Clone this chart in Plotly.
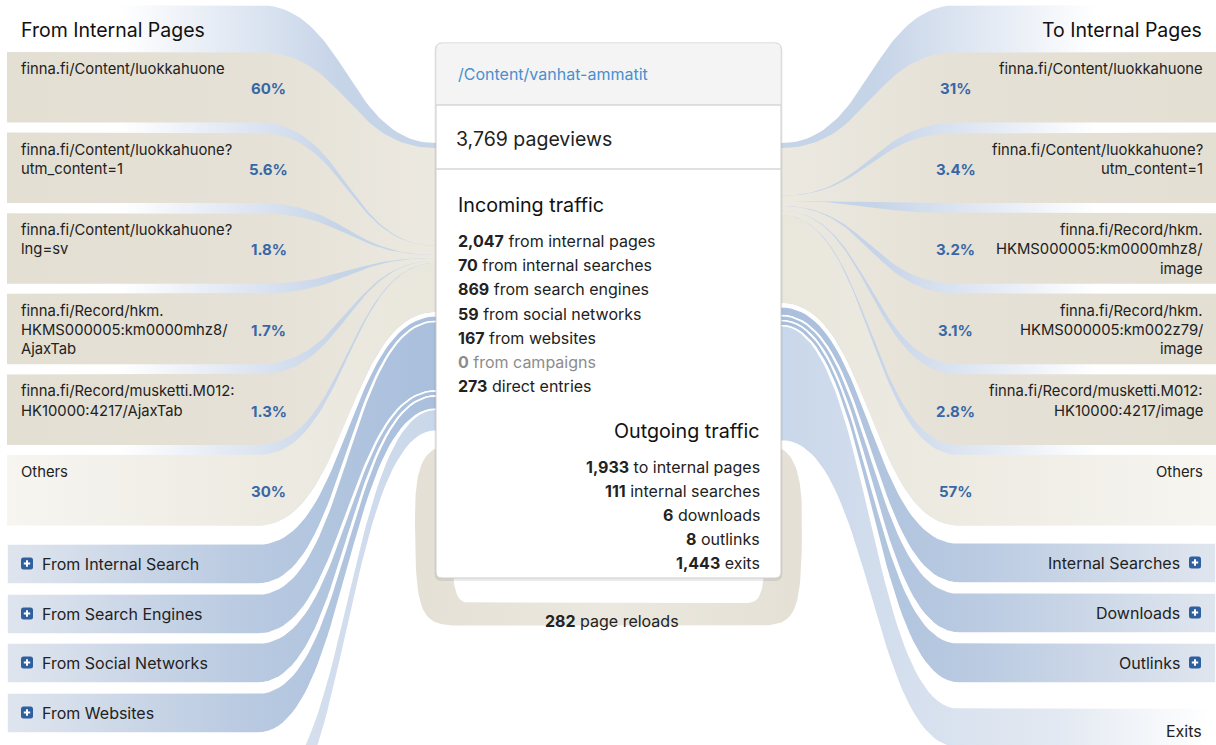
import numpy as np
import plotly.graph_objects as go

# ---------------- data ----------------
page_url = "/Content/vanhat-ammatit"
pageviews = 3769

incoming_labels = ["from internal pages", "from internal searches", "from search engines",
                   "from social networks", "from websites", "from campaigns", "direct entries"]
incoming_values = [2047, 70, 869, 59, 167, 0, 273]

outgoing_labels = ["to internal pages", "internal searches", "downloads", "outlinks", "exits"]
outgoing_values = [1933, 111, 6, 8, 1443]

page_reloads = 282

prev_pages = ["finna.fi/Content/luokkahuone",
              "finna.fi/Content/luokkahuone?\nutm_content=1",
              "finna.fi/Content/luokkahuone?\nlng=sv",
              "finna.fi/Record/hkm.\nHKMS000005:km0000mhz8/\nAjaxTab",
              "finna.fi/Record/musketti.M012:\nHK10000:4217/AjaxTab",
              "Others"]
prev_pct = [60, 5.6, 1.8, 1.7, 1.3, 30]

next_pages = ["finna.fi/Content/luokkahuone",
              "finna.fi/Content/luokkahuone?\nutm_content=1",
              "finna.fi/Record/hkm.\nHKMS000005:km0000mhz8/\nimage",
              "finna.fi/Record/hkm.\nHKMS000005:km002z79/\nimage",
              "finna.fi/Record/musketti.M012:\nHK10000:4217/image",
              "Others"]
next_pct = [31, 3.4, 3.2, 3.1, 2.8, 57]

left_groups = ["From Internal Search", "From Search Engines", "From Social Networks",
               "From Websites", "Direct Entries"]
left_group_values = [70, 869, 59, 167, 273]
right_groups = ["Internal Searches", "Downloads", "Outlinks", "Exits"]
right_group_values = [111, 6, 8, 1443]

# ---------------- layout constants ----------------
W, H = 1216, 745
CL, CR = 436, 781          # centre box left / right edge
BT, BB = 43, 578           # centre box top / bottom
K = 0.08                   # px per pageview
Y0 = 148                   # first flow y on centre box
XL0, XLC = 7, 258          # left boxes: left edge, curve start
XRC, XR0 = 959, 1216       # right boxes: curve start, right edge
ITEM_TOP0, ITEM_PITCH, ITEM_H = 52, 80.6, 70.5
LGROUP_TOPS = [544, 594, 643, 693, 790]
RGROUP_TOPS = [543, 593, 643, 708]
GROUP_H = 40
MINW = 5
FONT = "Inter"
TXT = "#222222"
PCT = "#3767a6"

TAN = [[0, "#e3dfd3"], [0.6, "#e5e1d6"], [1, "#ece9e1"]]
TAN_OTHERS = [[0, "#f6f5f0"], [0.55, "#eeebe3"], [1, "#e9e6dc"]]
BG_BLUE = [[0, "#ffffff"], [0.35, "#ffffff"], [1, "#c6d4e8"]]
BLUE = [[0, "#dfe5ee"], [0.55, "#b9cae1"], [1, "#a9bfdc"]]
LIGHT_BLUE = [[0, "#ffffff"], [0.35, "#e3e9f2"], [1, "#c9d7ea"]]

fig = go.Figure()


def bez(x0, y0, x1, y1, n=48):
    t = np.linspace(0, 1, n)
    xm = (x0 + x1) / 2
    x = (1 - t) ** 3 * x0 + 3 * (1 - t) ** 2 * t * xm + 3 * (1 - t) * t ** 2 * xm + t ** 3 * x1
    y = (1 - t) ** 3 * y0 + 3 * (1 - t) ** 2 * t * y0 + 3 * (1 - t) * t ** 2 * y1 + t ** 3 * y1
    return list(x), list(y)


def band(top, bot, ctop, cbot, side):
    if side == "L":
        xo, xa, xc, xin = XL0, XLC, CL, CL + 4
    else:
        xo, xa, xc, xin = XR0, XRC, CR, CR - 4
    xt, yt = bez(xa, top, xc, ctop)
    xb, yb = bez(xa, bot, xc, cbot)
    xs = [xo] + xt + [xin, xin] + xb[::-1] + [xo, xo]
    ys = [top] + yt + [ctop, cbot] + yb[::-1] + [bot, top]
    return xs, ys


def add_fill(xs, ys, cs, side, start, stop, line_color=None, line_w=0):
    if side == "R":
        cs = [[round(1 - p, 4), c] for p, c in cs[::-1]]
        start, stop = W - stop, W - start
    fig.add_trace(go.Scatter(
        x=xs, y=ys, mode="lines", fill="toself",
        line=dict(width=line_w, color=line_color or "rgba(0,0,0,0)"),
        fillgradient=dict(type="horizontal", colorscale=cs, start=start, stop=stop),
        hoverinfo="skip", showlegend=False))


def pct_text(v):
    return f"{v:g}%"


annotations = []


def ann(x, y, text, size=14, color=TXT, xanchor="left", yanchor="middle"):
    annotations.append(dict(x=x, y=y, xref="x", yref="y", text=text, showarrow=False,
                            xanchor=xanchor, yanchor=yanchor,
                            font=dict(family=FONT, size=size, color=color)))


shapes = []


def rrect_path(x0, y0, x1, y1, r, top=True, bottom=True):
    rt = r if top else 0
    rb = r if bottom else 0
    return (f"M{x0 + rt},{y0} L{x1 - rt},{y0} Q{x1},{y0} {x1},{y0 + rt} "
            f"L{x1},{y1 - rb} Q{x1},{y1} {x1 - rb},{y1} L{x0 + rb},{y1} "
            f"Q{x0},{y1} {x0},{y1 - rb} L{x0},{y0 + rt} Q{x0},{y0} {x0 + rt},{y0} Z")


def plus_icon(cx, cy, s=12):
    x0, y0, x1, y1 = cx - s / 2, cy - s / 2, cx + s / 2, cy + s / 2
    shapes.append(dict(type="path", xref="x", yref="y", layer="above",
                       path=rrect_path(x0, y0, x1, y1, 2.5), fillcolor="#2f5f9c",
                       line=dict(width=0)))
    shapes.append(dict(type="line", xref="x", yref="y", layer="above",
                       x0=cx - 3.2, x1=cx + 3.2, y0=cy, y1=cy, line=dict(color="white", width=2)))
    shapes.append(dict(type="line", xref="x", yref="y", layer="above",
                       x0=cx, x1=cx, y0=cy - 3.2, y1=cy + 3.2, line=dict(color="white", width=2)))


# ---------------- side panels ----------------
def draw_side(side, pages, pcts, group_total, groups, group_vals, group_tops, header):
    tot_h = group_total * K
    # group background (blue strip visible between page boxes)
    xs, ys = band(5, ITEM_TOP0 + 5 * ITEM_PITCH + ITEM_H, Y0 - 5, Y0 + tot_h, side)
    add_fill(xs, ys, BG_BLUE, side, 0, 340)
    # page boxes
    ssum = sum(pcts)
    cy = Y0
    for i, (pg, p) in enumerate(zip(pages, pcts)):
        h = p / ssum * tot_h
        top = ITEM_TOP0 + i * ITEM_PITCH
        bot = top + ITEM_H
        xs, ys = band(top, bot, cy, cy + h, side)
        cs = TAN_OTHERS if pg == "Others" else TAN
        add_fill(xs, ys, cs, side, XL0, CL)
        cy += h
        for j, line in enumerate(pg.split("\n")):
            if side == "L":
                ann(18.5, top + 17 + 19.2 * j, line, 14.8)
            else:
                ann(1204.5, top + 17 + 19.2 * j, line, 14.8, xanchor="right")
        xp = 268.5 if side == "L" else 955.5
        ann(xp, top + ITEM_H / 2 + 1.5, f"<b>{pct_text(p)}</b>", 15, PCT, xanchor="center")
    if side == "L":
        ann(18.5, 30, header, 19.5, "#111111")
    else:
        ann(1204, 30, header, 19.5, "#111111", xanchor="right")
    # other groups
    cy = Y0 + tot_h + 4
    for g, v, top in zip(groups, group_vals, group_tops):
        h = max(v * K, MINW)
        bot = top + GROUP_H
        xs, ys = band(top, bot, cy, cy + h, side)
        light = g in ("Exits", "Direct Entries")
        add_fill(xs, ys, LIGHT_BLUE if light else BLUE, side, XL0, CL,
                 line_color="white", line_w=1.6)
        cy += h
        ymid = top + GROUP_H / 2 - 0.5
        if top < H:
            if side == "L":
                if not light:
                    plus_icon(27, ymid)
                    ann(39.5, ymid, g, 16)
                else:
                    ann(18.5, ymid, g, 16)
            else:
                if not light:
                    plus_icon(1195, ymid)
                    ann(1182, ymid, g, 16, xanchor="right")
                else:
                    ann(1204, ymid + 3, g, 16, xanchor="right")
    return cy


lend = draw_side("L", prev_pages, prev_pct, incoming_values[0], left_groups,
                 left_group_values, LGROUP_TOPS, "From Internal Pages")
rend = draw_side("R", next_pages, next_pct, outgoing_values[0], right_groups,
                 right_group_values, RGROUP_TOPS, "To Internal Pages")

# ---------------- page reload loop ----------------
lw = page_reloads * K
ytop = max(lend, rend) + 6
in_bot = 603
out_bot = in_bot + lw
xo_l, xo_r = 415, 802
xi_l, xi_r = 452, 765
pts_x, pts_y = [], []


def seg(p0, p1, p2, p3, n=30):
    t = np.linspace(0, 1, n)
    x = (1 - t) ** 3 * p0[0] + 3 * (1 - t) ** 2 * t * p1[0] + 3 * (1 - t) * t ** 2 * p2[0] + t ** 3 * p3[0]
    y = (1 - t) ** 3 * p0[1] + 3 * (1 - t) ** 2 * t * p1[1] + 3 * (1 - t) * t ** 2 * p2[1] + t ** 3 * p3[1]
    pts_x.extend(x)
    pts_y.extend(y)


seg((CL + 4, ytop), (418, ytop + 6), (xo_l, ytop + 35), (xo_l, ytop + 70))
seg((xo_l, ytop + 70), (xo_l, out_bot - 10), (xo_l + 5, out_bot), (xo_l + 45, out_bot))
seg((xo_l + 45, out_bot), (500, out_bot), (700, out_bot), (xo_r - 45, out_bot))
seg((xo_r - 45, out_bot), (xo_r - 5, out_bot), (xo_r, out_bot - 10), (xo_r, ytop + 70))
seg((xo_r, ytop + 70), (xo_r, ytop + 35), (CR + 16, ytop + 6), (CR - 4, ytop))
yti = ytop + lw
seg((CR - 4, yti), (CR - 4, yti), (xi_r, yti + 30), (xi_r, yti + 70))
seg((xi_r, yti + 70), (xi_r, in_bot - 5), (xi_r - 5, in_bot), (xi_r - 20, in_bot))
seg((xi_r - 20, in_bot), (700, in_bot), (500, in_bot), (xi_l + 20, in_bot))
seg((xi_l + 20, in_bot), (xi_l + 5, in_bot), (xi_l, in_bot - 5), (xi_l, yti + 70))
seg((xi_l, yti + 70), (xi_l, yti + 30), (CL + 4, yti), (CL + 4, yti))
fig.add_trace(go.Scatter(x=pts_x, y=pts_y, mode="lines", fill="toself",
                         line=dict(width=0, color="rgba(0,0,0,0)"),
                         fillgradient=dict(type="horizontal",
                                           colorscale=[[0, "#e4e0d5"], [0.5, "#ebe8df"], [1, "#e4e0d5"]],
                                           start=xo_l, stop=xo_r),
                         hoverinfo="skip", showlegend=False))
ann((CL + CR) / 2 + 3, in_bot + 18, f"<b>{page_reloads:,}</b> page reloads", 16, xanchor="center")

# ---------------- centre box ----------------
shapes.insert(0, dict(type="path", xref="x", yref="y", layer="above",
                      path=rrect_path(CL - 1.5, BT + 0.5, CR + 1.5, BB + 3, 7),
                      fillcolor="rgba(0,0,0,0.08)", line=dict(width=0)))
shapes.insert(1, dict(type="path", xref="x", yref="y", layer="above",
                      path=rrect_path(CL, BT, CR, BB, 6), fillcolor="#ffffff",
                      line=dict(color="#cdcdcd", width=1)))
shapes.insert(2, dict(type="path", xref="x", yref="y", layer="above",
                      path=rrect_path(CL + 0.5, BT + 0.5, CR - 0.5, 105, 6, bottom=False),
                      fillcolor="#f4f4f4", line=dict(width=0)))
for yl in (105, 169):
    shapes.insert(3, dict(type="line", xref="x", yref="y", layer="above",
                          x0=CL, x1=CR, y0=yl, y1=yl, line=dict(color="#d6d6d6", width=1.3)))

ann(CL + 19.5, 74, page_url, 16, "#4a8fce")
ann(CL + 17.5, 139, f"{pageviews:,} pageviews", 19.5)
ann(CL + 19.5, 205, "Incoming traffic", 19.7, "#111111")
for i, (lab, v) in enumerate(zip(incoming_labels, incoming_values)):
    col = "#8c8c8c" if v == 0 else TXT
    ann(CL + 19.5, 241 + 24.2 * i, f"<b>{v:,}</b> {lab}", 16, col)
ann(CR - 19, 431, "Outgoing traffic", 19.7, "#111111", xanchor="right")
for i, (lab, v) in enumerate(zip(outgoing_labels, outgoing_values)):
    ann(CR - 19, 467 + 24.1 * i, f"<b>{v:,}</b> {lab}", 16, TXT, xanchor="right")

fig.update_layout(
    width=W, height=H, margin=dict(l=0, r=0, t=0, b=0),
    paper_bgcolor="white", plot_bgcolor="white",
    xaxis=dict(range=[0, W], visible=False, fixedrange=True),
    yaxis=dict(range=[H, 0], visible=False, fixedrange=True),
    shapes=shapes, annotations=annotations, showlegend=False,
)

fig.write_html("out.html", config={"displayModeBar": False, "staticPlot": True},
               post_script="document.body.style.margin='0';document.body.style.overflow='hidden';")
